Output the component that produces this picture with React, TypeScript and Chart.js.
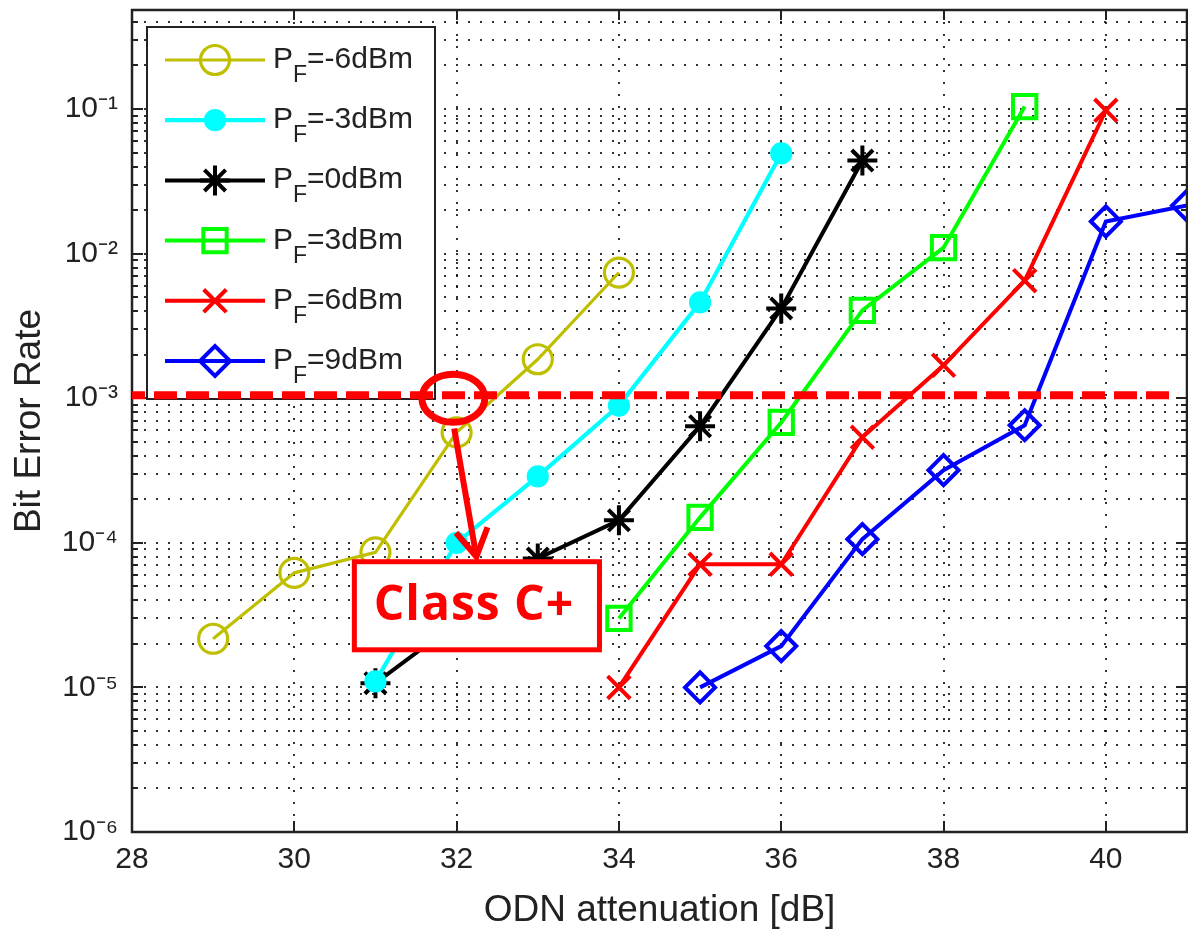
import React, { useEffect, useRef } from 'react';
import { Chart, registerables } from 'chart.js';
import { drawPoint } from 'chart.js/helpers';

Chart.register(...registerables);

// ---------------- data ----------------
const X_TICKS = [28, 30, 32, 34, 36, 38, 40];
const Y_DECADES = [-6, -5, -4, -3, -2, -1];
const Y_DECADE_LABELS = ['10\u207B\u2076', '10\u207B\u2075', '10\u207B\u2074', '10\u207B\u00B3', '10\u207B\u00B2', '10\u207B\u00B9'];
const Y_MINOR_MULTIPLIERS = [2, 3, 4, 5, 6, 7, 8, 9];

const SERIES_POWERS = ['-6', '-3', '0', '3', '6', '9'];

const ATT_PF_M6 = [29, 30, 31, 32, 33, 34];
const BER_PF_M6 = [2.17e-5, 6.2e-5, 8.6e-5, 5.8e-4, 1.86e-3, 7.4e-3];

const ATT_PF_M3 = [31, 32, 33, 34, 35, 36];
const BER_PF_M3 = [1.1e-5, 1.0e-4, 2.88e-4, 8.9e-4, 4.6e-3, 4.93e-2];

const ATT_PF_0 = [31, 32, 33, 34, 35, 36, 37];
const BER_PF_0 = [1.07e-5, 2.8e-5, 7.8e-5, 1.43e-4, 6.4e-4, 4.18e-3, 4.4e-2];

const ATT_PF_3 = [34, 35, 36, 37, 38, 39];
const BER_PF_3 = [3.0e-5, 1.5e-4, 6.8e-4, 4.05e-3, 1.1e-2, 1.04e-1];

const ATT_PF_6 = [34, 35, 36, 37, 38, 39, 40];
const BER_PF_6 = [1.0e-5, 7.1e-5, 7.1e-5, 5.37e-4, 1.69e-3, 6.5e-3, 9.8e-2];

const ATT_PF_9 = [35, 36, 37, 38, 39, 40, 41];
const BER_PF_9 = [1.0e-5, 1.93e-5, 1.06e-4, 3.18e-4, 6.5e-4, 1.67e-2, 2.15e-2];

const SERIES_X = [ATT_PF_M6, ATT_PF_M3, ATT_PF_0, ATT_PF_3, ATT_PF_6, ATT_PF_9];
const SERIES_Y = [BER_PF_M6, BER_PF_M3, BER_PF_0, BER_PF_3, BER_PF_6, BER_PF_9];

// annotation anchors (data coordinates)
const THRESHOLD_BER = 1.05e-3;
const THRESHOLD_X_RANGE = [28, 40.89];
const CIRCLE_CENTER = [31.96, 1.0e-3];
const ARROW_FROM = [31.97, 6.17e-4];
const ARROW_TO = [32.25, 7.66e-5];
const CLASS_BOX_X = [30.74, 33.76];
const CLASS_BOX_Y = [7.4e-5, 1.82e-5];
const CLASS_LABEL = 'Class C+';

const X_MIN = 28;
const X_MAX = 41;
const Y_MIN = 1e-6;
const Y_MAX = 0.484;

// ---------------- styles ----------------
const FONT = '"Liberation Sans", Arial, Helvetica, sans-serif';
const TEXT_COLOR = '#222222';
const GRID_COLOR = 'rgba(0,0,0,0.8)';
const SERIES_STYLE = [
  { color: '#BFBF00', point: 'circle', radius: 14.5, width: 3.2, fill: 'rgba(0,0,0,0)' },
  { color: '#00FFFF', point: 'circle', radius: 9, width: 4.2, fill: '#00FFFF' },
  { color: '#000000', point: 'star', radius: 15, width: 4, fill: 'rgba(0,0,0,0)' },
  { color: '#00FF00', point: 'rect', radius: 16.5, width: 4, fill: 'rgba(0,0,0,0)' },
  { color: '#FF0000', point: 'crossRot', radius: 16, width: 4, fill: 'rgba(0,0,0,0)' },
  { color: '#0000FF', point: 'rectRot', radius: 15, width: 4, fill: 'rgba(0,0,0,0)' },
];

function isDecade(v: number) {
  const l = Math.log10(v);
  return Math.abs(l - Math.round(l)) < 1e-6;
}

function zeroPadding(s: any) {
  s.paddingLeft = 0;
  s.paddingRight = 0;
  s.paddingTop = 0;
  s.paddingBottom = 0;
}

const framePlugin = {
  id: 'matlabFrame',
  afterDatasetsDraw(chart: any) {
    const { ctx, chartArea: a, scales } = chart;
    const xs = scales.x;
    const ys = scales.y;
    ctx.save();
    ctx.setLineDash([]);
    ctx.strokeStyle = TEXT_COLOR;
    ctx.lineWidth = 2;
    ctx.beginPath();
    ys.ticks.forEach((t: any) => {
      const py = Math.round(ys.getPixelForValue(t.value));
      const len = isDecade(t.value) ? 11 : 6;
      ctx.moveTo(a.left, py);
      ctx.lineTo(a.left + len, py);
      ctx.moveTo(a.right, py);
      ctx.lineTo(a.right - len, py);
    });
    xs.ticks.forEach((t: any) => {
      const px = Math.round(xs.getPixelForValue(t.value));
      ctx.moveTo(px, a.bottom);
      ctx.lineTo(px, a.bottom - 11);
      ctx.moveTo(px, a.top);
      ctx.lineTo(px, a.top + 10);
    });
    ctx.stroke();
    ctx.lineWidth = 2.5;
    ctx.strokeRect(a.left, a.top, a.right - a.left, a.bottom - a.top);
    ctx.restore();
  },
};

const legendPlugin = {
  id: 'matlabLegend',
  afterDatasetsDraw(chart: any) {
    const { ctx, chartArea: a } = chart;
    const x0 = a.left + 15;
    const y0 = a.top + 17;
    const w = 288;
    const h = 372;
    ctx.save();
    ctx.setLineDash([]);
    ctx.fillStyle = '#ffffff';
    ctx.fillRect(x0, y0, w, h);
    ctx.strokeStyle = TEXT_COLOR;
    ctx.lineWidth = 2;
    ctx.strokeRect(x0, y0, w, h);
    chart.data.datasets.forEach((ds: any, i: number) => {
      const cy = y0 + 33 + i * 60.2;
      ctx.strokeStyle = ds.borderColor;
      ctx.lineWidth = ds.borderWidth;
      ctx.beginPath();
      ctx.moveTo(x0 + 18, cy);
      ctx.lineTo(x0 + 118, cy);
      ctx.stroke();
      ctx.fillStyle = ds.pointBackgroundColor;
      ctx.strokeStyle = ds.pointBorderColor;
      ctx.lineWidth = ds.pointBorderWidth;
      drawPoint(ctx, { pointStyle: ds.pointStyle, rotation: 0, radius: ds.pointRadius, borderWidth: ds.pointBorderWidth }, x0 + 68, cy);
      ctx.fillStyle = TEXT_COLOR;
      ctx.textBaseline = 'alphabetic';
      ctx.textAlign = 'left';
      const tx = x0 + 126;
      ctx.font = `30px ${FONT}`;
      ctx.fillText('P', tx, cy + 8);
      const pw = ctx.measureText('P').width;
      ctx.font = `23px ${FONT}`;
      ctx.fillText('F', tx + pw, cy + 22);
      const fw = ctx.measureText('F').width;
      ctx.font = `30px ${FONT}`;
      ctx.fillText(`=${SERIES_POWERS[i]}dBm`, tx + pw + fw, cy + 8);
    });
    ctx.restore();
  },
};

const annotationPlugin = {
  id: 'classAnnotation',
  afterDatasetsDraw(chart: any) {
    const { ctx, scales } = chart;
    const xs = scales.x;
    const ys = scales.y;
    const X = (v: number) => xs.getPixelForValue(v);
    const Y = (v: number) => ys.getPixelForValue(v);
    ctx.save();
    // threshold dashed line
    ctx.strokeStyle = '#FF0000';
    ctx.lineWidth = 8;
    ctx.setLineDash([23, 9]);
    ctx.lineDashOffset = 10;
    ctx.beginPath();
    ctx.moveTo(X(THRESHOLD_X_RANGE[0]), Y(THRESHOLD_BER));
    ctx.lineTo(X(THRESHOLD_X_RANGE[1]), Y(THRESHOLD_BER));
    ctx.stroke();
    ctx.setLineDash([]);
    // ellipse
    ctx.lineWidth = 7;
    ctx.beginPath();
    ctx.ellipse(X(CIRCLE_CENTER[0]), Y(CIRCLE_CENTER[1]), 31.5, 24, 0, 0, Math.PI * 2);
    ctx.stroke();
    // arrow
    const fx = X(ARROW_FROM[0]);
    const fy = Y(ARROW_FROM[1]);
    const tx = X(ARROW_TO[0]);
    const ty = Y(ARROW_TO[1]);
    const ang = Math.atan2(ty - fy, tx - fx);
    ctx.lineWidth = 6;
    ctx.lineCap = 'butt';
    ctx.beginPath();
    ctx.moveTo(fx, fy);
    ctx.lineTo(tx - 6 * Math.cos(ang), ty - 6 * Math.sin(ang));
    ctx.stroke();
    const armLen = 34;
    const spread = (28 * Math.PI) / 180;
    ctx.lineJoin = 'miter';
    ctx.beginPath();
    ctx.moveTo(tx - armLen * Math.cos(ang - spread), ty - armLen * Math.sin(ang - spread));
    ctx.lineTo(tx - 3 * Math.cos(ang), ty - 3 * Math.sin(ang));
    ctx.lineTo(tx - armLen * Math.cos(ang + spread), ty - armLen * Math.sin(ang + spread));
    ctx.stroke();
    // class box
    const bx1 = X(CLASS_BOX_X[0]);
    const bx2 = X(CLASS_BOX_X[1]);
    const by1 = Y(CLASS_BOX_Y[0]);
    const by2 = Y(CLASS_BOX_Y[1]);
    ctx.fillStyle = '#ffffff';
    ctx.fillRect(bx1, by1, bx2 - bx1, by2 - by1);
    ctx.lineWidth = 5;
    ctx.strokeRect(bx1, by1, bx2 - bx1, by2 - by1);
    ctx.fillStyle = '#FF0000';
    ctx.font = `bold 48px "Open Sans", "Noto Sans", sans-serif`;
    try {
      (ctx as any).letterSpacing = '1px';
    } catch (e) {
      /* ignore */
    }
    ctx.textAlign = 'center';
    ctx.textBaseline = 'middle';
    ctx.fillText(CLASS_LABEL, (bx1 + bx2) / 2 - 3, (by1 + by2) / 2 + 1);
    ctx.restore();
  },
};

export default function App() {
  const ref = useRef<HTMLCanvasElement>(null);
  useEffect(() => {
    const canvas = ref.current;
    if (!canvas) return;
    const datasets = SERIES_POWERS.map((p, i) => {
      const s = SERIES_STYLE[i];
      return {
        label: `P_F=${p}dBm`,
        data: SERIES_X[i].map((x, j) => ({ x, y: SERIES_Y[i][j] })),
        borderColor: s.color,
        backgroundColor: s.fill,
        borderWidth: s.width,
        pointStyle: s.point,
        pointRadius: s.radius,
        pointBorderWidth: s.width,
        pointBorderColor: s.color,
        pointBackgroundColor: s.fill,
        pointHoverRadius: s.radius,
        tension: 0,
        fill: false,
      };
    });
    const chart = new Chart(canvas, {
      type: 'line',
      data: { datasets },
      options: {
        responsive: false,
        devicePixelRatio: 1,
        animation: false,
        events: [],
        layout: { autoPadding: false, padding: { top: 10, right: 1, left: 0, bottom: 0 } },
        plugins: { legend: { display: false }, tooltip: { enabled: false } },
        scales: {
          x: {
            type: 'linear',
            min: X_MIN,
            max: X_MAX,
            afterBuildTicks: (s: any) => {
              s.ticks = X_TICKS.map((v) => ({ value: v }));
            },
            afterFit: (s: any) => {
              s.height = 101;
              zeroPadding(s);
            },
            grid: { color: GRID_COLOR, lineWidth: 2, drawTicks: false },
            border: { display: false, dash: [2, 10] },
            ticks: {
              autoSkip: false,
              maxRotation: 0,
              padding: 10,
              color: TEXT_COLOR,
              font: { size: 30, family: FONT },
            },
            title: {
              display: true,
              text: 'ODN attenuation [dB]',
              color: TEXT_COLOR,
              font: { size: 37, family: FONT },
              padding: { top: 0, bottom: 0 },
            },
          },
          y: {
            type: 'logarithmic',
            min: Y_MIN,
            max: Y_MAX,
            afterBuildTicks: (s: any) => {
              const ticks: { value: number }[] = [];
              Y_DECADES.forEach((d) => {
                ticks.push({ value: Math.pow(10, d) });
                Y_MINOR_MULTIPLIERS.forEach((m) => {
                  const v = m * Math.pow(10, d);
                  if (v <= Y_MAX) ticks.push({ value: v });
                });
              });
              s.ticks = ticks;
            },
            afterFit: (s: any) => {
              s.width = 132;
              zeroPadding(s);
            },
            grid: { color: GRID_COLOR, lineWidth: 2, drawTicks: false },
            border: { display: false, dash: [2, 10] },
            ticks: {
              autoSkip: false,
              padding: 14,
              color: TEXT_COLOR,
              font: { size: 30, family: FONT },
              callback: (value: any) => {
                const v = Number(value);
                const idx = Y_DECADES.findIndex((d) => Math.abs(Math.log10(v) - d) < 1e-6);
                return idx >= 0 ? Y_DECADE_LABELS[idx] : '';
              },
            },
            title: {
              display: true,
              text: 'Bit Error Rate',
              color: TEXT_COLOR,
              font: { size: 37, family: FONT },
              padding: { top: 8, bottom: 0 },
            },
          },
        },
      },
      plugins: [framePlugin, legendPlugin, annotationPlugin],
    } as any);
    return () => chart.destroy();
  }, []);
  return (
    <div style={{ position: 'absolute', left: 0, top: 0, width: 1188, height: 933, background: '#ffffff' }}>
      <canvas ref={ref} width={1188} height={933} style={{ display: 'block', width: 1188, height: 933 }} />
    </div>
  );
}
